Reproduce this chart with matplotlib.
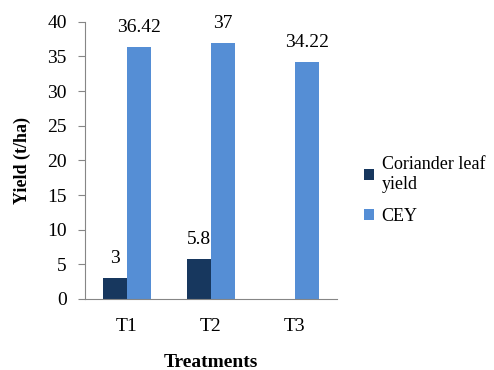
import matplotlib.pyplot as plt
import numpy as np

treatments = ["T1", "T2", "T3"]
leaf_yield = [3, 5.8, 0]
cey = [36.42, 37, 34.22]
leaf_labels = ["3", "5.8", ""]
cey_labels = ["36.42", "37", "34.22"]

plt.rcParams['font.family'] = ['Liberation Serif', 'DejaVu Serif']

fig = plt.figure(figsize=(4.94, 3.70), dpi=100)
ax = fig.add_axes([0.172, 0.192, 0.51, 0.749])

x = np.arange(len(treatments))
w = 0.286
b1 = ax.bar(x - w / 2, leaf_yield, w, color="#17375E", label="Coriander leaf\nyield")
b2 = ax.bar(x + w / 2, cey, w, color="#558ED5", label="CEY")

ax.bar_label(b1, labels=leaf_labels, padding=8, fontsize=14)
ax.bar_label(b2, labels=cey_labels, padding=8, fontsize=14)

ax.set_xlim(-0.5, 2.5)
ax.set_ylim(0, 40)
ax.set_yticks(range(0, 41, 5))
ax.set_xticks(x)
ax.set_xticklabels(treatments)
ax.tick_params(axis="x", length=0, pad=14, labelsize=14)
ax.tick_params(axis="y", length=5, color="#868686", pad=8, labelsize=14)

for s in ["top", "right"]:
    ax.spines[s].set_visible(False)
for s in ["left", "bottom"]:
    ax.spines[s].set_color("#868686")

ax.set_ylabel("Yield (t/ha)", fontweight="bold", fontsize=13)
ax.yaxis.set_label_coords(-0.214, 0.5)
ax.set_xlabel("Treatments", fontweight="bold", fontsize=14)
ax.xaxis.set_label_coords(0.5, -0.2)

fig.legend(loc="upper left", bbox_to_anchor=(0.723, 0.598), frameon=False,
           fontsize=13, handlelength=0.55, handleheight=0.55, handletextpad=0.4,
           labelspacing=0.85, borderaxespad=0)

plt.savefig("out.png", dpi=100)
